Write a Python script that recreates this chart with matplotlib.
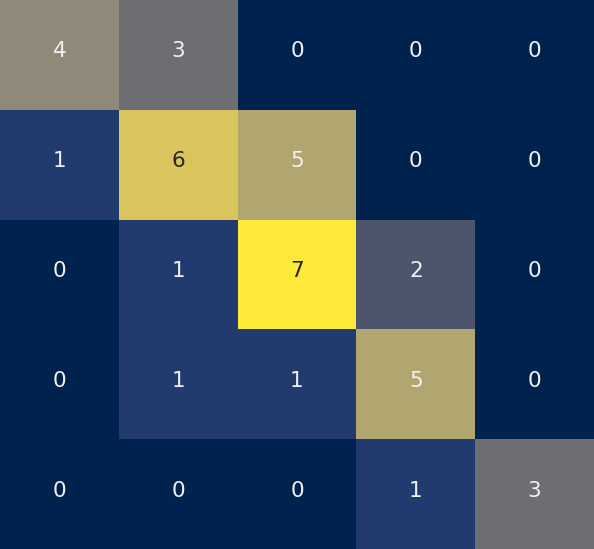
import numpy as np
import matplotlib
matplotlib.use("Agg")
import matplotlib.pyplot as plt
import matplotlib.transforms as mtransforms
import seaborn as sns

# confusion-style counts, rows top to bottom
row_0 = [4, 3, 0, 0, 0]
row_1 = [1, 6, 5, 0, 0]
row_2 = [0, 1, 7, 2, 0]
row_3 = [0, 1, 1, 5, 0]
row_4 = [0, 0, 0, 1, 3]

counts = np.array([row_0, row_1, row_2, row_3, row_4])

fig = plt.figure(figsize=(5.94, 5.49), dpi=100)
ax = fig.add_axes([0, 0, 1, 1])

sns.heatmap(counts, cmap="cividis", annot=True, fmt="d", cbar=False,
            annot_kws={"fontsize": 15.5}, ax=ax)

# labels sit a touch above the cell centre in the reference
shift = mtransforms.offset_copy(ax.transData, fig=fig, x=0, y=3.5, units="dots")
for t in ax.texts:
    t.set_transform(shift)
    if t.get_color() in ("w", "white"):
        t.set_color("#f2f2f2")

ax.set_xticks([])
ax.set_yticks([])
ax.set_axis_off()

fig.savefig("out.png", dpi=100)
